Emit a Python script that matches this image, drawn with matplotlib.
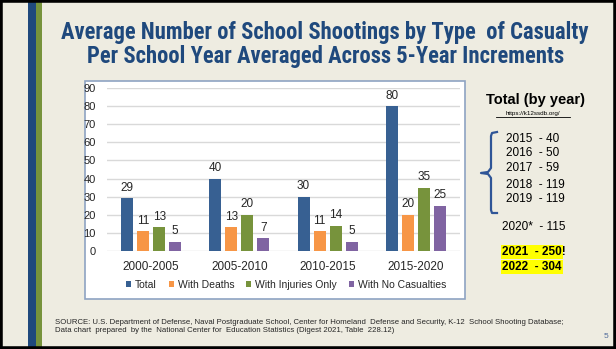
import matplotlib
matplotlib.use("Agg")
import matplotlib.pyplot as plt
from matplotlib.patches import Rectangle
from matplotlib.lines import Line2D
from matplotlib.font_manager import fontManager
import numpy as np

categories = ["2000-2005", "2005-2010", "2010-2015", "2015-2020"]
series_names = ["Total", "With Deaths", "With Injuries Only", "With No Casualties"]
total = [29, 40, 30, 80]
with_deaths = [11, 13, 11, 20]
with_injuries = [13, 20, 14, 35]
no_casualties = [5, 7, 5, 25]
yticks = [0, 10, 20, 30, 40, 50, 60, 70, 80, 90]
year_list = [("2015", "40"), ("2016", "50"), ("2017", "59"), ("2018", "119"), ("2019", "119")]

colors = ["#376092", "#F79646", "#77933C", "#8064A2"]

W, H = 616, 349
fig = plt.figure(figsize=(W / 100, H / 100), dpi=100, facecolor="#EEECE1")

def fx(x):
    return x / W

def fy(y):
    return 1 - y / H

names = {f.name for f in fontManager.ttflist}
title_font = ["DejaVu Sans"]
for cand in ["Roboto Condensed", "Liberation Sans Narrow", "DejaVu Sans Condensed",
             "Open Sans Condensed", "Noto Sans Condensed", "Lato", "Roboto"]:
    if cand in names:
        title_font = [cand, "DejaVu Sans"]
        break
body_font = ["Liberation Sans", "DejaVu Sans"]

# frame + stripes
fig.patches.append(Rectangle((0, 0), 1, 1, transform=fig.transFigure, fill=False,
                             edgecolor="black", linewidth=4, zorder=10))
fig.patches.append(Rectangle((fx(28), 0), fx(8), 1, transform=fig.transFigure,
                             facecolor="#1F497D", edgecolor="none", zorder=1))
fig.patches.append(Rectangle((fx(36), 0), fx(6), 1, transform=fig.transFigure,
                             facecolor="#77933C", edgecolor="none", zorder=1))

# title
t1 = fig.text(fx(325), fy(33), "Average Number of School Shootings by Type  of Casualty",
              ha="center", va="center", fontsize=16, fontweight="black", color="#1F497D",
              family=title_font)
t2 = fig.text(fx(326), fy(57), "Per School Year Averaged Across 5-Year Increments",
              ha="center", va="center", fontsize=16, fontweight="black", color="#1F497D",
              family=title_font)
renderer = fig.canvas.get_renderer()
w1 = t1.get_window_extent(renderer).width
scale = 527.0 / w1
for t in (t1, t2):
    t.set_fontsize(16 * scale)

# chart box
fig.patches.append(Rectangle((fx(85), fy(299)), fx(465 - 85), (299 - 81) / H,
                             transform=fig.transFigure, facecolor="white",
                             edgecolor="#8EA3C2", linewidth=1.2, zorder=1))

ax = fig.add_axes([fx(107), fy(251), fx(460 - 107), (251 - 88) / H])
ax.set_facecolor("none")
ax.set_zorder(2)
x = np.arange(len(categories))
bw = 12 / 88
step = 16 / 88
all_series = [total, with_deaths, with_injuries, no_casualties]
for i, (vals, c, nm) in enumerate(zip(all_series, colors, series_names)):
    pos = x + (i - 1.5) * step
    ax.bar(pos, vals, width=bw, color=c, label=nm, zorder=3)
    for p, v in zip(pos, vals):
        ax.text(p, v + 2.5, str(v), ha="center", va="bottom", fontsize=8.5,
                color="#262626", family=body_font)
ax.set_xlim(-0.5, 3.5)
ax.set_ylim(0, 90)
ax.set_yticks(yticks)
ax.set_yticklabels([str(t) for t in yticks], fontsize=8, color="#262626", family=body_font)
ax.set_xticks(x)
ax.set_xticklabels(categories, fontsize=8.5, color="#262626", family=body_font)
ax.tick_params(axis="both", length=0)
ax.tick_params(axis="y", pad=8)
ax.tick_params(axis="x", pad=7)
ax.grid(axis="y", color="#D9D9D9", linewidth=1, zorder=0)
for s in ax.spines.values():
    s.set_visible(False)

handles, labels = ax.get_legend_handles_labels()
fig.legend(handles, labels, loc="center", bbox_to_anchor=(fx(286), fy(285)), ncol=4,
           frameon=False, prop={"family": body_font, "size": 7.5},
           handlelength=0.5, handleheight=0.5, handletextpad=0.35, columnspacing=1.15,
           labelcolor="#262626")

# right panel
fig.text(fx(535), fy(100), "Total (by year)", ha="center", va="center", fontsize=10.5,
         fontweight="bold", color="black", family=body_font)
fig.text(fx(533), fy(114), "https://k12ssdb.org/", ha="center", va="center", fontsize=4.5,
         color="black", family=body_font)
fig.add_artist(Line2D([fx(496), fx(570)], [fy(117), fy(117)], color="black", linewidth=0.6))

bx = [497, 492, 491, 491, 488, 481, 488, 491, 491, 492, 497]
by = [132, 133, 136, 168, 172, 173, 174, 178, 210, 213, 213]
fig.add_artist(Line2D([fx(v) for v in bx], [fy(v) for v in by], color="#2F5597",
                      linewidth=1.6, solid_joinstyle="round"))

ys = [139, 153, 168, 185, 199]
for (yr, val), yy in zip(year_list, ys):
    fig.text(fx(506), fy(yy), f"{yr}  - {val}", ha="left", va="center", fontsize=8.5,
             color="black", family=body_font)
fig.text(fx(502), fy(227), "2020*  - 115", ha="left", va="center", fontsize=8.5,
         color="black", family=body_font)
fig.patches.append(Rectangle((fx(501), fy(259)), fx(62), 14 / H, transform=fig.transFigure,
                             facecolor="#FFFF00", edgecolor="none", zorder=1))
fig.patches.append(Rectangle((fx(501), fy(274)), fx(62), 14 / H, transform=fig.transFigure,
                             facecolor="#FFFF00", edgecolor="none", zorder=1))
fig.text(fx(502), fy(252), "2021  - 250!", ha="left", va="center", fontsize=8.5,
         fontweight="bold", color="black", family=body_font)
fig.text(fx(502), fy(267), "2022  - 304", ha="left", va="center", fontsize=8.5,
         fontweight="bold", color="black", family=body_font)

# source
fig.text(fx(55), fy(323), "SOURCE: U.S. Department of Defense, Naval Postgraduate School, Center for Homeland  Defense and Security, K-12  School Shooting Database;",
         ha="left", va="center", fontsize=5.6, color="#262626", family=body_font)
fig.text(fx(55), fy(331), "Data chart  prepared  by the  National Center for  Education Statistics (Digest 2021, Table  228.12)",
         ha="left", va="center", fontsize=5.6, color="#262626", family=body_font)
fig.text(fx(606), fy(336), "5", ha="center", va="center", fontsize=6, color="#4F6A9A",
         family=body_font)

fig.savefig("out.png", dpi=100, facecolor=fig.get_facecolor())
